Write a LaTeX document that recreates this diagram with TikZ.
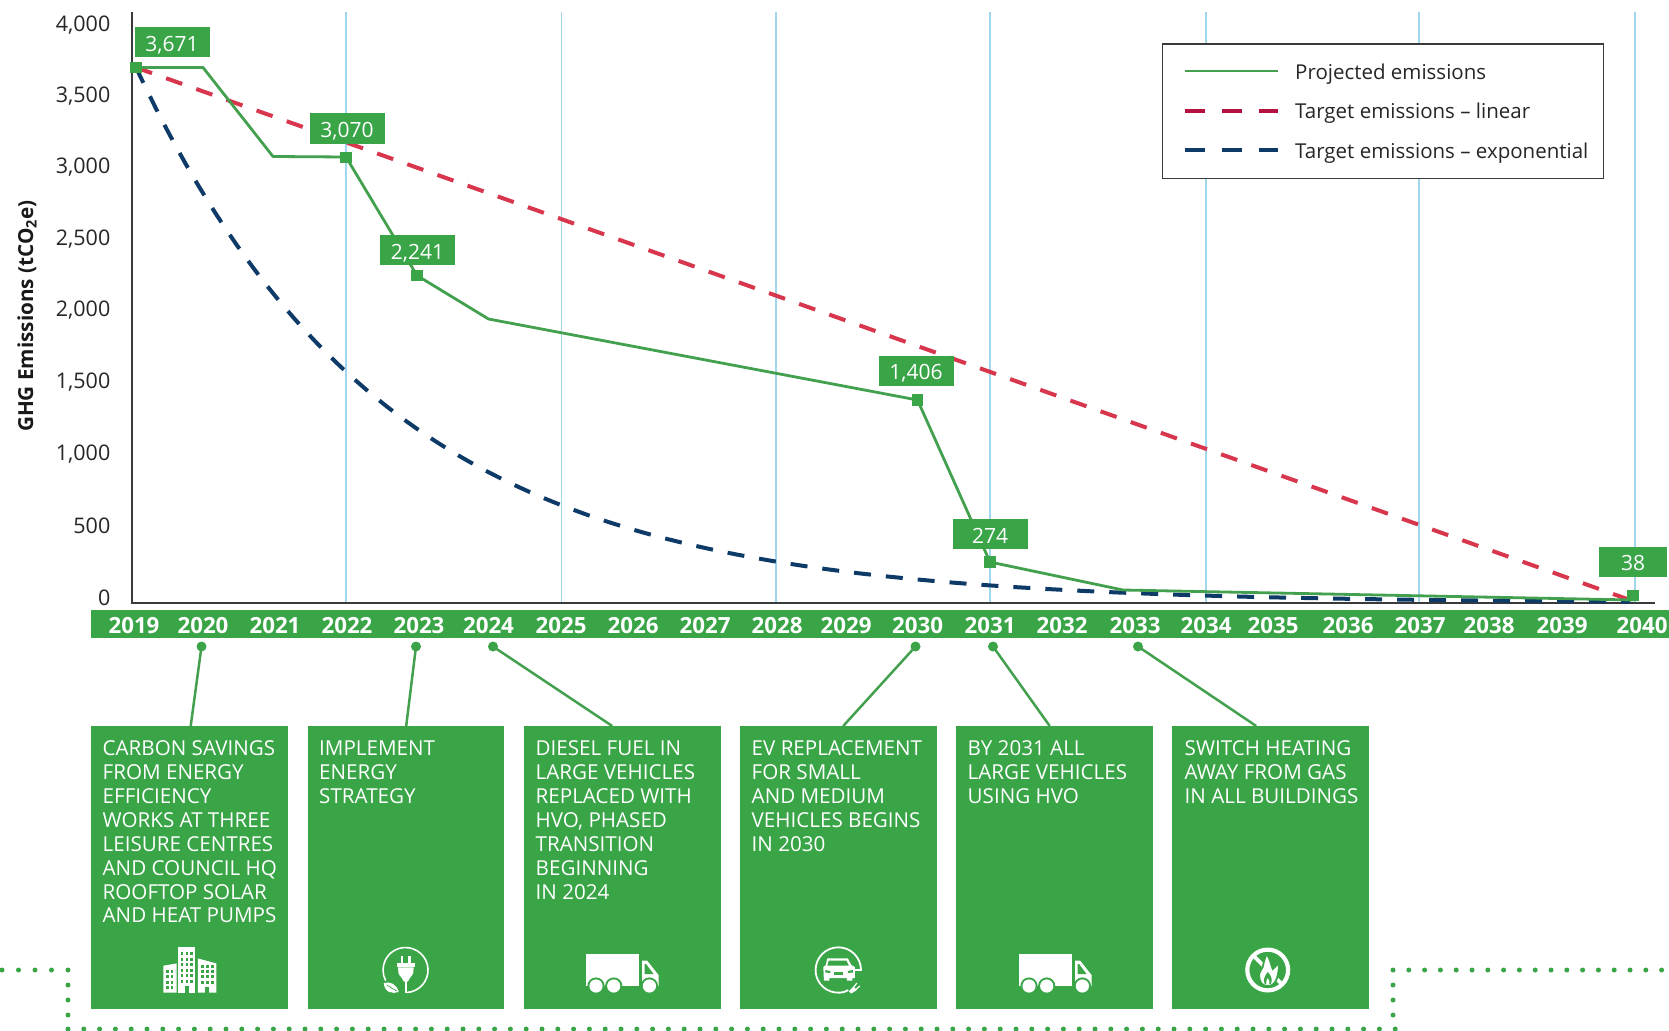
\documentclass[tikz,border=0pt]{standalone}
\usepackage{fontspec}
\setmainfont{Open Sans}
\definecolor{gbar}{HTML}{39A547}
\definecolor{gline}{HTML}{43A04E}
\definecolor{vline}{HTML}{A0D6EE}
\definecolor{axisc}{HTML}{3A3A3A}
\definecolor{redd}{HTML}{D8364C}
\definecolor{legred}{HTML}{B5123F}
\definecolor{navy}{HTML}{0E3A68}
\tikzset{
 x=1pt,y=-1pt,
 grid/.style={vline,line width=1.1pt},
 projline/.style={gline,line width=2.8pt,line join=round},
 redline/.style={redd,line width=4pt,dash pattern=on 17pt off 15pt},
 navyline/.style={navy,line width=4pt,dash pattern=on 17pt off 15pt},
 valbox/.style={fill=gbar,text=white,minimum width=75pt,minimum height=30pt,inner sep=0pt,text height=18.5pt,text depth=0pt,font=\fontsize{21}{22}\selectfont},
 mark box/.style={fill=gbar,minimum width=11.5pt,minimum height=11.5pt,inner sep=0pt},
 ylab/.style={anchor=east,inner sep=0pt,text=black!85,font=\fontsize{21.5}{22}\selectfont},
 yearlab/.style={text=white,inner sep=0pt,font=\fontsize{22.3}{24}\selectfont\bfseries},
 panel/.style={fill=gbar,anchor=north west,minimum width=197pt,minimum height=283pt,inner sep=0pt},
 paneltext/.style={anchor=north west,text=white,align=left,inner sep=0pt,font=\fontsize{20.6}{23.9}\selectfont},
 tip/.style={circle,fill=gbar,minimum size=10pt,inner sep=0pt},
 tipline/.style={gline,line width=2.5pt},
 legtext/.style={anchor=west,inner sep=0pt,text=black!85,font=\fontsize{20.5}{22}\selectfont},
 greendot/.style={fill=gbar},
 truckicon/.pic={
  \fill[white] (0,0) rectangle (53,32);
  \fill[white] (56,6.5) -- (61,6.5) -- (72.5,21) -- (72.5,32) -- (56,32) -- cycle;
  \fill[gbar] (58.5,10) -- (60,10) -- (67.5,20) -- (58.5,20) -- cycle;
  \foreach \wx in {10,27.7,63.4}{
   \fill[gbar] (\wx,32) circle (8.6);
   \fill[white] (\wx,32) circle (6.6);}
 },
 buildicon/.pic={
  \fill[white] (0,19) -- (13.3,16.7) -- (13.3,46) -- (0,46) -- cycle;
  \fill[white] (15,0) rectangle (32,46);
  \fill[white] (34.5,11.7) -- (53,16.7) -- (53,46) -- (34.5,46) -- cycle;
  \foreach \cx in {3,7.2}{\foreach \cy in {23,28.5,34,39.5}{\fill[gbar] (\cx,\cy) rectangle ++(2.6,3);}}
  \foreach \cx in {38,43,48}{\foreach \cy in {18,23,28.5,34}{\fill[gbar] (\cx,\cy) rectangle ++(2.6,3);}}
  \foreach \cx in {17.5,22.2,27}{\foreach \cy in {5.5,11,16.5,22,27.5,33}{\fill[gbar] (\cx,\cy) rectangle ++(2.6,3);}}
  \fill[gbar] (21.5,39) rectangle (26,46);
  \fill[gbar] (42,40) rectangle (46,46);
 },
 plugicon/.pic={
  \draw[white,line width=1.6pt] (1,22.5) arc[start angle=87,end angle=-208,radius=22.5];
  \fill[white] (-5,-14) rectangle (-2.3,-6.5);
  \fill[white] (2.2,-14) rectangle (5,-6.5);
  \fill[white] (-9,-6.7) rectangle (9.3,-2.7);
  \fill[white] (-7.7,-2.7) -- (8,-2.7) -- (7.5,3) .. controls (6,7) and (3,8) .. (2.2,11.5) -- (-1.8,11.5) .. controls (-2.6,8) and (-6,7) .. (-7.2,3) -- cycle;
  \draw[white,line width=1.7pt] (0.3,11) -- (0.3,22.5);
  \fill[white] (-22,13) .. controls (-16,11) and (-9,14) .. (-7,22) .. controls (-13,24) and (-21,23) .. (-22,13) -- cycle;
  \draw[gbar,line width=.7pt] (-19,15) -- (-9,21);
 },
 caricon/.pic={
  \draw[white,line width=1.8pt] (15,0) -- (22.7,0) arc[start angle=0,end angle=-285,radius=22.7] -- (10,20);
  \fill[white] (-11,-11.7) -- (9.5,-11.7) -- (13,-5) -- (16.5,-3) -- (16.5,8) -- (14,8) -- (14,10.7) -- (8.5,10.7) -- (8.5,8) -- (-9,8) -- (-9,10.7) -- (-14.5,10.7) -- (-14.5,8) -- (-15,-3) -- (-12.5,-5) -- cycle;
  \fill[gbar] (-9.5,-9.5) -- (8,-9.5) -- (10.5,-4.5) -- (-11,-4.5) -- cycle;
  \fill[gbar] (-4,2) rectangle (5,5.3);
  \fill[gbar] (-13,0) -- (-8,1) -- (-8,3) -- (-13,2.5) -- cycle;
  \fill[gbar] (14.5,0) -- (9.5,1) -- (9.5,3) -- (14.5,2.5) -- cycle;
  \fill[white] (10.5,21.5) -- (15,16.5) -- (18.5,20) -- (13,23.5) -- cycle;
  \draw[white,line width=1.2pt] (15.5,17) -- (18.5,13);
  \draw[white,line width=1.2pt] (17.5,19.5) -- (21.5,16);
 },
 flameicon/.pic={
  \draw[white,line width=4.2pt] (0,0) circle (20.4);
  \draw[white,line width=3.6pt] (-15,-15) -- (15,15);
  \draw[gbar,line width=1.8pt,fill=white] (-1,-16) .. controls (3,-10) and (3,-6) .. (5,-1) .. controls (7,-3) and (9,-5) .. (12,-7) .. controls (11,-2) and (11,3) .. (9,9) .. controls (7,14) and (4,16) .. (0,16) .. controls (-5,16) and (-8,13) .. (-8.5,7) .. controls (-9,3) and (-7,0) .. (-5,-3) .. controls (-4,-8) and (-3,-12) .. (-1,-16) -- cycle;
  \fill[gbar] (0,2) .. controls (4,6) and (5,10) .. (3,14) -- (-3,14) .. controls (-5,10) and (-3,6) .. (0,2) -- cycle;
  \fill[white] (0,8) .. controls (2,10) and (2,12) .. (1.5,14) -- (-1.5,14) .. controls (-2,12) and (-1,10) .. (0,8) -- cycle;
 },
}
\begin{document}
\begin{tikzpicture}
\useasboundingbox (0,0) rectangle (1669,1030);
% grid
\foreach \gx in {346,561.5,776,990,1206,1419,1635}{\draw[grid] (\gx,12) -- (\gx,603);}
% axes
\coordinate (axtop) at (132,12);
\coordinate (axorg) at (132,603);
\coordinate (axend) at (1655,603);
\draw[axisc,line width=1.3pt] (axtop) -- (axorg) -- (axend);
% y labels
\foreach \ytxt/\yy in {4{,}000/24,3{,}500/95,3{,}000/166,2{,}500/238,2{,}000/309,1{,}500/381,1{,}000/453,500/524,0/596}{
 \node[ylab] at (110.5,\yy+1.5) {\ytxt};}
\node[rotate=90,inner sep=0pt,text=black!90,font=\fontsize{20.7}{22}\selectfont\bfseries] (ytitle) at (27,316) {GHG Emissions (tCO\textsubscript{2}e)};
% target lines
\coordinate (startpt) at (136,67.5);
\coordinate (endpt) at (1630,600);
\draw[redline] (startpt) -- (endpt);
\draw[navyline] plot[domain=136:1630,samples=150] (\x,{603-535.5*exp(-0.004*(\x-136))});
% projected
\draw[projline] (startpt) -- (203,67.5) -- (273,156.5) -- (346,157) -- (417,275.5) -- (488.5,319) -- (917.5,400) -- (990,562) -- (1123,590) -- (1633,600);
\node[mark box] (m1) at (136,67.5) {};
\node[mark box] (m2) at (346,157.5) {};
\node[mark box] (m3) at (417,275.5) {};
\node[mark box] (m4) at (917.5,400) {};
\node[mark box] (m5) at (990,562) {};
\node[mark box] (m6) at (1633,595.5) {};
\node[valbox] (v1) at (172,42.5) {3,671};
\node[valbox] (v2) at (347,128.5) {3,070};
\node[valbox] (v3) at (417.5,250) {2,241};
\node[valbox] (v4) at (916,370.5) {1,406};
\node[valbox] (v5) at (990,534) {274};
\node[valbox,minimum width=68pt] (v6) at (1633,561.5) {38};
% year bar
\fill[gbar] (90.5,609.5) rectangle (1669,638);
\foreach \yl/\xx in {2019/134,2020/203,2021/275,2022/347,2023/419,2024/488.5,2025/561,2026/633,2027/705,2028/777,2029/846,2030/917.5,2031/990,2032/1062,2033/1135,2034/1206,2035/1273,2036/1348,2037/1420,2038/1489,2039/1562,2040/1642}{
 \node[yearlab] at (\xx,626) {\yl};}
% legend
\node[draw=axisc,line width=1.2pt,fill=white,minimum width=441pt,minimum height=134.5pt,inner sep=0pt,anchor=north west] (legend) at (1162,43.5) {};
\coordinate (l1a) at (1185,71); \coordinate (l1b) at (1278,71);
\coordinate (l2a) at (1185,111); \coordinate (l2b) at (1278,111);
\coordinate (l3a) at (1185,150); \coordinate (l3b) at (1278,150);
\draw[projline] (l1a) -- (l1b);
\draw[legred,line width=3.6pt,dash pattern=on 20pt off 17pt] (l2a) -- (l2b);
\draw[navy,line width=3.6pt,dash pattern=on 20pt off 17pt] (l3a) -- (l3b);
\node[legtext] (t1) at (1295,74) {Projected emissions};
\node[legtext] (t2) at (1295,113.5) {Target emissions -- linear};
\node[legtext] (t3) at (1295,153) {Target emissions -- exponential};
% panels
\node[panel] (b1) at (90.5,726) {};
\node[panel,minimum width=196pt] (b2) at (308,726) {};
\node[panel] (b3) at (524,726) {};
\node[panel] (b4) at (740,726) {};
\node[panel] (b5) at (956,726) {};
\node[panel] (b6) at (1172,726) {};
\node[paneltext] (p1) at (102.5,740.5) {CARBON SAVINGS\\FROM ENERGY\\EFFICIENCY\\WORKS AT THREE\\LEISURE CENTRES\\AND COUNCIL HQ\\ROOFTOP SOLAR\\AND HEAT PUMPS};
\node[paneltext] (p2) at (319,740.5) {IMPLEMENT\\ENERGY\\STRATEGY};
\node[paneltext] (p3) at (535.5,740.5) {DIESEL FUEL IN\\LARGE VEHICLES\\REPLACED WITH\\HVO, PHASED\\TRANSITION\\BEGINNING\\IN 2024};
\node[paneltext] (p4) at (751.5,740.5) {EV REPLACEMENT\\FOR SMALL\\AND MEDIUM\\VEHICLES BEGINS\\IN 2030};
\node[paneltext] (p5) at (967.5,740.5) {BY 2031 ALL\\LARGE VEHICLES\\USING HVO};
\node[paneltext] (p6) at (1184.5,740.5) {SWITCH HEATING\\AWAY FROM GAS\\IN ALL BUILDINGS};
% connectors
\node[tip] (d1) at (201.5,646.5) {};
\node[tip] (d2) at (416,646.5) {};
\node[tip] (d3) at (493,646.5) {};
\node[tip] (d4) at (915.5,646.5) {};
\node[tip] (d5) at (993,646.5) {};
\node[tip] (d6) at (1138,646.5) {};
\draw[tipline] (d1.center) -- ([xshift=1.5pt]b1.north);
\draw[tipline] (d2.center) -- (b2.north);
\draw[tipline] (d3.center) -- ([xshift=-10.5pt]b3.north);
\draw[tipline] (d4.center) -- ([xshift=4.5pt]b4.north);
\draw[tipline] (d5.center) -- ([xshift=-5pt]b5.north);
\draw[tipline] (d6.center) -- ([xshift=-14.5pt]b6.north);
% icons
\pic at (163.3,946.7) {buildicon};
\pic at (405.7,970) {plugicon};
\pic at (586,954) {truckicon};
\pic at (838.3,970) {caricon};
\pic at (1019,954) {truckicon};
\pic at (1267.7,970) {flameicon};
% dotted frame
\foreach \k in {0,...,3}{\fill[greendot] (2+\k*16.5,970) circle (2.5);}
\foreach \k in {0,...,3}{\fill[greendot] (68,970+\k*15) circle (2.5);}
\foreach \k in {0,...,84}{\fill[greendot] (68+\k*15.8,1029) circle (2.5);}
\foreach \k in {0,...,3}{\fill[greendot] (1393,970+\k*15) circle (2.5);}
\foreach \k in {1,...,17}{\fill[greendot] (1393+\k*15.8,970) circle (2.5);}
\end{tikzpicture}
\end{document}
